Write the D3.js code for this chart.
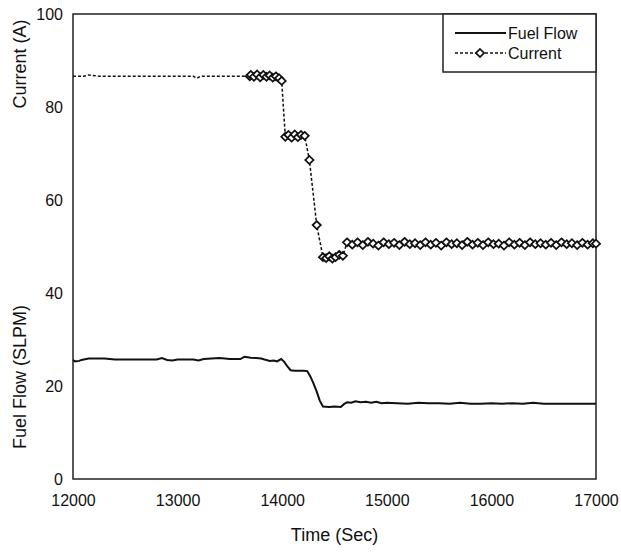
<!doctype html>
<html>
<head>
<style>
    body { margin: 0; background: #fff; }
    text { font-family: "Liberation Sans", Arial, sans-serif; fill: #111; }
    .axis path, .axis line { stroke: #222; }
</style>
<script src="https://d3js.org/d3.v7.min.js"></script>
</head>
<body>
<svg width="621" height="554"></svg>
<script>
// tick labels
var xTicks = [12000, 13000, 14000, 15000, 16000, 17000];
var yTicks = [0, 20, 40, 60, 80, 100];

// fuel flow (SLPM)
var flowTime = [12000, 12020, 12060, 12080, 12150, 12300, 12400, 12600, 12800, 12850, 12900, 12950, 13000,
    13150, 13200, 13250, 13400, 13500, 13600, 13640, 13700, 13750, 13800, 13830, 13850, 13880, 13920, 13950,
    13990, 14020, 14050, 14080, 14120, 14200, 14240, 14270, 14300, 14330, 14360, 14390, 14450, 14500, 14560,
    14590, 14620, 14660, 14700, 14750, 14800, 14850, 14900, 14950, 15000, 15100, 15200, 15300, 15400, 15500,
    15600, 15700, 15800, 15900, 16000, 16100, 16200, 16300, 16400, 16500, 16600, 16800, 17000];
var flowValue = [25.6, 25.3, 25.4, 25.6, 25.9, 25.9, 25.7, 25.7, 25.7, 26.0, 25.6, 25.5, 25.7,
    25.7, 25.5, 25.8, 26.0, 25.8, 25.8, 26.3, 26.1, 26.0, 25.9, 25.7, 25.6, 25.4, 25.5, 25.3,
    25.8, 25.2, 24.2, 23.4, 23.3, 23.3, 23.2, 22.0, 20.5, 18.8, 16.8, 15.6, 15.5, 15.6, 15.5,
    16.1, 16.5, 16.4, 16.7, 16.5, 16.6, 16.4, 16.6, 16.3, 16.4, 16.3, 16.2, 16.4, 16.3, 16.3,
    16.2, 16.4, 16.2, 16.2, 16.3, 16.2, 16.3, 16.2, 16.4, 16.2, 16.2, 16.2, 16.2];

// current (A); markers shown from 13690 on
var currentTime = [12000, 12100, 12150, 12250, 12500, 12800, 13000, 13150, 13185, 13220, 13500, 13690,
    13700, 13730, 13760, 13790, 13820, 13850, 13880, 13910, 13940, 13970, 13995, 14030,
    14060, 14090, 14120, 14150, 14180, 14215, 14260, 14330, 14390,
    14420, 14450, 14480, 14510, 14545, 14580, 14620,
    14670, 14720, 14770, 14820, 14870, 14920, 14970, 15020, 15070, 15120, 15170, 15220, 15270,
    15320, 15370, 15420, 15470, 15520, 15570, 15620, 15670, 15720, 15770, 15820, 15870, 15920,
    15970, 16020, 16070, 16120, 16170, 16220, 16270, 16320, 16370, 16420, 16470, 16520, 16570,
    16620, 16670, 16720, 16770, 16820, 16870, 16920, 16970, 17000];
var currentValue = [86.6, 86.6, 86.9, 86.6, 86.6, 86.6, 86.6, 86.6, 86.2, 86.6, 86.6, 86.6,
    86.9, 86.5, 87.0, 86.4, 86.9, 86.5, 86.8, 86.3, 86.6, 86.2, 85.6, 73.6,
    74.0, 73.4, 74.1, 73.5, 74.0, 73.8, 68.6, 54.6, 47.7,
    47.5, 47.9, 47.4, 47.7, 48.2, 48.0, 50.9,
    50.4, 50.9, 50.3, 51.0, 50.6, 50.2, 50.9, 50.5, 50.8, 50.3, 51.0, 50.5, 50.7,
    50.3, 50.9, 50.4, 50.8, 50.2, 50.9, 50.5, 50.7, 50.3, 51.0, 50.4, 50.8, 50.3,
    50.9, 50.5, 50.6, 50.2, 50.9, 50.4, 50.8, 50.3, 50.9, 50.5, 50.7, 50.4, 50.8,
    50.3, 50.9, 50.5, 50.7, 50.3, 50.8, 50.4, 50.7, 50.6];
var markerStart = 13690;

var seriesNames = ["Fuel Flow", "Current"];

var svg = d3.select("svg"),
    plotLeft = 73, plotRight = 596, plotTop = 14, plotBottom = 479;

var x = d3.scaleLinear().domain([12000, 17000]).range([plotLeft, plotRight]),
    y = d3.scaleLinear().domain([0, 100]).range([plotBottom, plotTop]);

// frame
svg.append("rect")
   .attr("x", plotLeft).attr("y", plotTop)
   .attr("width", plotRight - plotLeft).attr("height", plotBottom - plotTop)
   .attr("fill", "none").attr("stroke", "#222").attr("stroke-width", 1.5);

var xAxis = svg.append("g")
   .attr("class", "axis")
   .attr("transform", "translate(0," + plotBottom + ")")
   .call(d3.axisBottom(x).tickValues(xTicks).tickSize(0).tickPadding(16).tickFormat(d3.format("d")));
xAxis.select(".domain").remove();
xAxis.selectAll("text").style("font-size", "16px");

var yAxis = svg.append("g")
   .attr("class", "axis")
   .attr("transform", "translate(" + plotLeft + ",0)")
   .call(d3.axisLeft(y).tickValues(yTicks).tickSize(0).tickPadding(10));
yAxis.select(".domain").remove();
yAxis.selectAll("text").style("font-size", "16px");

// axis titles
svg.append("text")
   .attr("x", (plotLeft + plotRight) / 2).attr("y", 541)
   .attr("text-anchor", "middle").style("font-size", "18px")
   .text("Time (Sec)");
svg.append("text")
   .attr("transform", "translate(26,64) rotate(-90)")
   .attr("text-anchor", "middle").style("font-size", "18px")
   .text("Current (A)");
svg.append("text")
   .attr("transform", "translate(26,377) rotate(-90)")
   .attr("text-anchor", "middle").style("font-size", "18px")
   .text("Fuel Flow (SLPM)");

var line = d3.line()
   .x(function(d) { return x(d[0]); })
   .y(function(d) { return y(d[1]); });

var flow = d3.zip(flowTime, flowValue),
    current = d3.zip(currentTime, currentValue);

svg.append("path")
   .datum(flow)
   .attr("d", line)
   .attr("fill", "none").attr("stroke", "#111").attr("stroke-width", 2);

svg.append("path")
   .datum(current)
   .attr("d", line)
   .attr("fill", "none").attr("stroke", "#111").attr("stroke-width", 1.5)
   .attr("stroke-dasharray", "3,2");

var diamond = d3.symbol().type(d3.symbolDiamond).size(18);

svg.selectAll(".marker")
   .data(current.filter(function(d) { return d[0] >= markerStart; }))
   .enter().append("path")
   .attr("class", "marker")
   .attr("transform", function(d) { return "translate(" + x(d[0]) + "," + y(d[1]) + ") scale(1.8,1)"; })
   .attr("d", diamond)
   .attr("fill", "#fff").attr("stroke", "#111").attr("stroke-width", 1.2);

// legend
var lg = svg.append("g");
lg.append("rect")
  .attr("x", 443).attr("y", plotTop).attr("width", plotRight - 443).attr("height", 58)
  .attr("fill", "#fff").attr("stroke", "#222").attr("stroke-width", 1.5);

seriesNames.forEach(function(name, i) {
    var yy = 33 + i * 20;
    lg.append("line")
      .attr("x1", 455).attr("x2", 506).attr("y1", yy).attr("y2", yy)
      .attr("stroke", "#111").attr("stroke-width", i === 0 ? 2 : 1.5)
      .attr("stroke-dasharray", i === 0 ? null : "3,2");
    if (i === 1) {
        lg.append("path")
          .attr("transform", "translate(480," + yy + ") scale(1.8,1)")
          .attr("d", diamond)
          .attr("fill", "#fff").attr("stroke", "#111").attr("stroke-width", 1.2);
    }
    lg.append("text")
      .attr("x", 508).attr("y", yy).attr("dy", "0.35em")
      .style("font-size", "16px")
      .text(name);
});
</script>
</body>
</html>
